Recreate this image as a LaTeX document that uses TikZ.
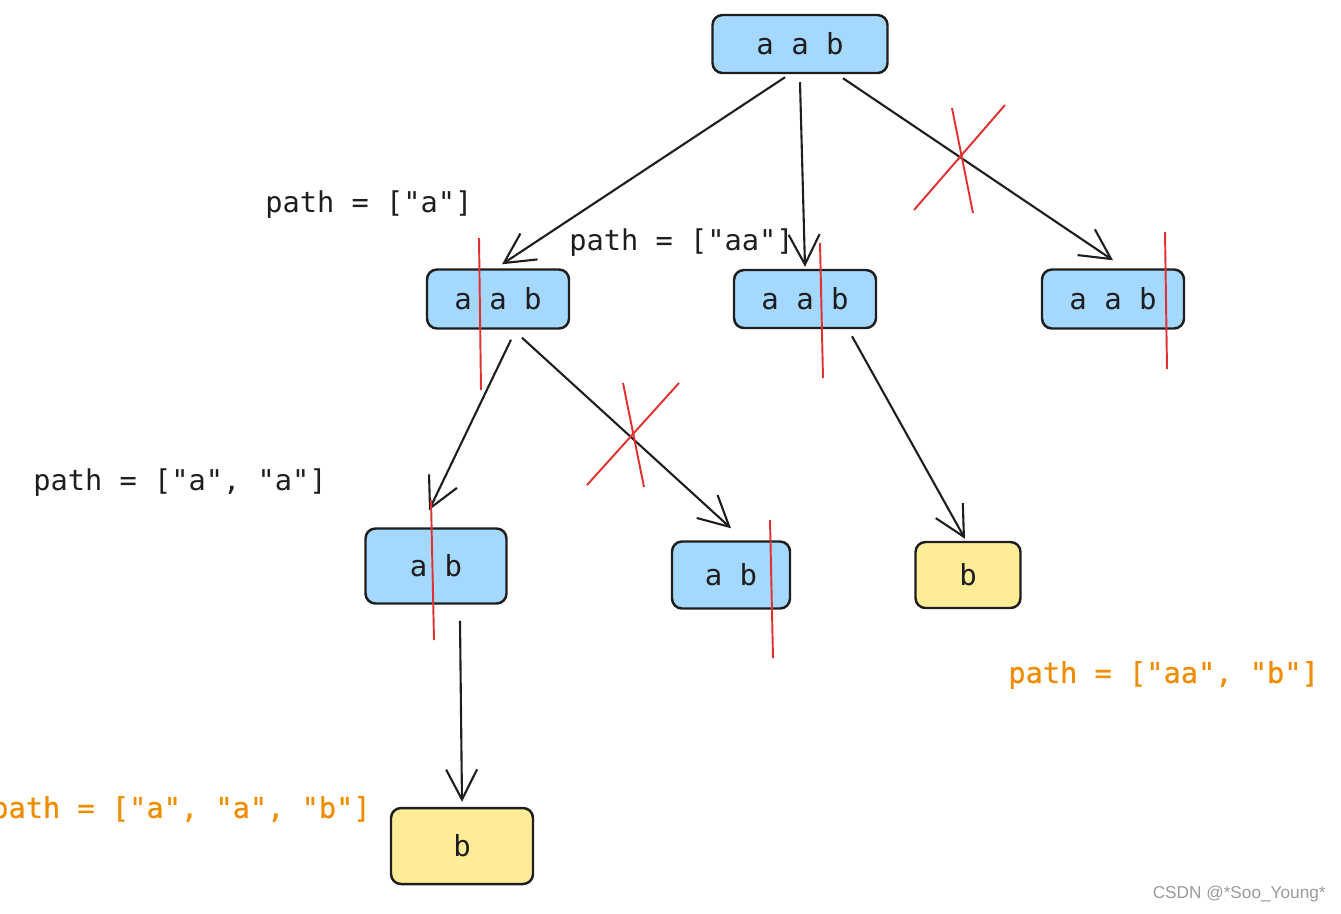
\documentclass[tikz,border=0pt]{standalone}
\usepackage{fontspec}
\setmonofont{DejaVu Sans Mono}
\setsansfont{Liberation Sans}
\newfontfamily\pathbold[FakeBold=0.6]{DejaVu Sans Mono}
\usepackage{tikz}
\usetikzlibrary{arrows.meta}
\definecolor{ink}{HTML}{1E1E1E}
\definecolor{skyfill}{HTML}{A5D8FF}
\definecolor{sandfill}{HTML}{FFEC99}
\definecolor{orangetext}{HTML}{F08C00}
\definecolor{cutred}{HTML}{E03131}
\definecolor{markgray}{HTML}{9A9A9A}
\tikzstyle{choice} = [rectangle, rounded corners=0.2cm, minimum width=2.84cm,
minimum height=1.16cm, text centered, draw=ink, line width=1.4pt, fill=skyfill,
text=ink, font=\ttfamily\fontsize{16.5}{20}\selectfont]
\tikzstyle{leaf} = [choice, fill=sandfill]
\tikzstyle{pathtext} = [anchor=west, inner sep=0pt, text=ink,
font=\ttfamily\fontsize{16.3}{20}\selectfont]
\tikzstyle{result} = [pathtext, text=orangetext,
font=\pathbold\fontsize{16.3}{20}\selectfont]
\tikzstyle{arrow} = [line width=1.2pt, draw=ink,
-{Straight Barb[length=0.6cm,width=0.62cm]}]
\tikzstyle{cut} = [draw=cutred, line width=1.1pt]

\begin{document}
\begin{tikzpicture}[node distance=5.1cm]
\useasboundingbox (0,0) rectangle (26.82,-18.26);

\node(root)[choice, minimum width=3.5cm] at (16,-0.88){a a b};
\node(aab2)[choice, below of=root, xshift=0.1cm]{a a b};
\node(aab1)[choice, left of=aab2, xshift=-1.04cm, minimum height=1.18cm]{a a b};
\node(aab3)[choice, right of=aab2, xshift=1.06cm, minimum height=1.18cm]{a a b};
\node(ab1)[choice, below of=aab1, xshift=-1.24cm, yshift=-0.24cm, minimum width=2.82cm, minimum height=1.5cm]{a b};
\node(ab2)[choice, below of=aab2, xshift=-1.48cm, yshift=-0.42cm, minimum width=2.36cm, minimum height=1.34cm]{a b};
\node(b1)[leaf, right of=ab2, xshift=-0.36cm, minimum width=2.1cm, minimum height=1.32cm]{b};
\node(b2)[leaf, below of=ab1, xshift=0.52cm, yshift=-0.5cm, minimum height=1.52cm]{b};

\node(p1)[pathtext] at (5.30,-4.10){path = ["a"]};
\node(p2)[pathtext] at (11.38,-4.86){path = ["aa"]};
\node(p3)[pathtext] at (0.66,-9.66){path = ["a", "a"]};
\node(p4)[result, anchor=east] at (7.42,-16.20){path = ["a", "a", "b"]};
\node(p5)[result] at (20.16,-13.50){path = ["aa", "b"]};
\node(mark)[anchor=east, inner sep=0pt, text=markgray, font=\sffamily\fontsize{9.8}{12}\selectfont] at (26.52,-17.88){CSDN @*Soo\_Young*};

\draw[arrow]([xshift=-0.3cm,yshift=-0.06cm]root.south) -- ([xshift=0.08cm,yshift=0.08cm]aab1.north);
\draw[arrow]([yshift=-0.16cm]root.south) -- ([yshift=0.04cm]aab2.north);
\draw[arrow]([xshift=0.86cm,yshift=-0.08cm]root.south) -- ([yshift=0.16cm]aab3.north);
\draw[arrow]([xshift=0.26cm,yshift=-0.2cm]aab1.south) -- ([xshift=-0.14cm,yshift=0.34cm]ab1.north);
\draw[arrow]([xshift=0.48cm,yshift=-0.16cm]aab1.south) -- ([yshift=0.24cm]ab2.north);
\draw[arrow]([xshift=0.94cm,yshift=-0.14cm]aab2.south) -- ([xshift=-0.06cm,yshift=0.04cm]b1.north);
\draw[arrow]([xshift=0.48cm,yshift=-0.32cm]ab1.south) -- ([yshift=0.1cm]b2.north);

% pruned branches
\draw[cut](9.58,-4.76) -- (9.62,-7.80);
\draw[cut](16.40,-4.86) -- (16.46,-7.56);
\draw[cut](23.30,-4.64) -- (23.34,-7.38);
\draw[cut](8.62,-10.00) -- (8.68,-12.80);
\draw[cut](15.40,-10.40) -- (15.46,-13.16);
\draw[cut](18.28,-4.20) -- (20.10,-2.10);
\draw[cut](19.04,-2.16) -- (19.46,-4.26);
\draw[cut](11.74,-9.70) -- (13.58,-7.66);
\draw[cut](12.46,-7.66) -- (12.88,-9.74);

\end{tikzpicture}
\end{document}
